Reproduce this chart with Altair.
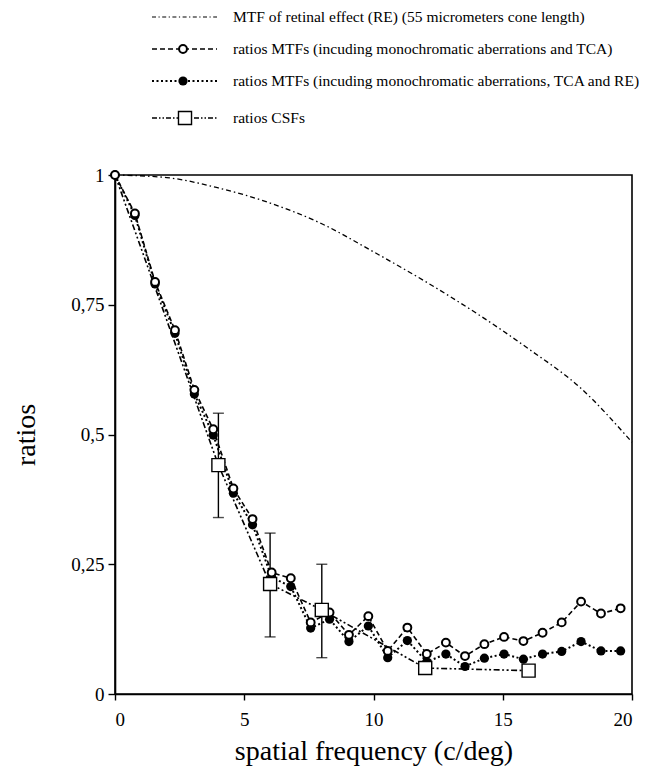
import altair as alt
import pandas as pd

# ---- data ----
x_mtf = [0, 0.77, 1.55, 2.32, 3.07, 3.8, 4.58, 5.32, 6.06, 6.8, 7.57, 8.3, 9.05, 9.8,
         10.55, 11.31, 12.06, 12.8, 13.54, 14.29, 15.05, 15.8, 16.54, 17.28, 18.03, 18.8, 19.56]
mtf_open = [1.0, 0.926, 0.794, 0.701, 0.586, 0.51, 0.396, 0.337, 0.234, 0.223, 0.138, 0.157,
            0.114, 0.150, 0.083, 0.128, 0.077, 0.099, 0.073, 0.096, 0.110, 0.102, 0.118,
            0.138, 0.178, 0.155, 0.165]
mtf_filled = [1.0, 0.922, 0.79, 0.695, 0.578, 0.499, 0.387, 0.326, 0.225, 0.207, 0.127, 0.144,
              0.101, 0.131, 0.070, 0.103, 0.062, 0.077, 0.053, 0.069, 0.077, 0.067, 0.077,
              0.082, 0.101, 0.083, 0.083]

x_re = [0, 2, 4, 6, 8, 10, 12, 14, 16, 18, 20]
y_re = [1.0, 0.995, 0.975, 0.946, 0.906, 0.852, 0.795, 0.733, 0.665, 0.59, 0.485]

x_csf = [0, 4, 6, 8, 12, 16]
y_csf = [1.0, 0.441, 0.212, 0.162, 0.05, 0.045]

x_err = [4, 6, 8]
err_lo = [0.34, 0.11, 0.07]
err_hi = [0.541, 0.31, 0.25]

legend_labels = [
    "MTF of retinal effect (RE) (55 micrometers cone length)",
    "ratios MTFs (incuding monochromatic aberrations and TCA)",
    "ratios MTFs (incuding monochromatic aberrations, TCA and RE)",
    "ratios CSFs",
]

x_ticks = [0, 5, 10, 15, 20]
y_ticks = [0, 0.25, 0.5, 0.75, 1]

FONT = "Liberation Serif"
W, H = 517, 519

df_mtf = pd.DataFrame({"x": x_mtf, "open": mtf_open, "filled": mtf_filled})
df_re = pd.DataFrame({"x": x_re, "y": y_re})
df_csf = pd.DataFrame({"x": x_csf, "y": y_csf})
df_err = pd.DataFrame({"x": x_err, "lo": err_lo, "hi": err_hi})

xs = alt.Scale(domain=[0, 20], nice=False, zero=False)
ys = alt.Scale(domain=[0, 1], nice=False, zero=False)

X = alt.X("x:Q", scale=xs, title="spatial frequency (c/deg)",
          axis=alt.Axis(values=x_ticks, grid=False, tickSize=6, labelPadding=10,
                        titlePadding=8))
Y_AX = alt.Axis(values=y_ticks, grid=False, tickSize=7, labelPadding=4, titlePadding=30,
                labelExpr="replace(format(datum.value, ''), '.', ',')")

re_line = alt.Chart(df_re).mark_line(
    color="black", strokeWidth=1.3, strokeDash=[5, 3, 1.5, 3], interpolate="monotone"
).encode(x=X, y=alt.Y("y:Q", scale=ys, title="ratios", axis=Y_AX))

filled_line = alt.Chart(df_mtf).mark_line(
    color="black", strokeWidth=2, strokeDash=[2, 2.5]
).encode(x="x:Q", y="filled:Q")
open_line = alt.Chart(df_mtf).mark_line(
    color="black", strokeWidth=1.6, strokeDash=[5, 3]
).encode(x="x:Q", y="open:Q")
csf_line = alt.Chart(df_csf).mark_line(
    color="black", strokeWidth=1.6, strokeDash=[6, 2.5, 2, 2.5, 2, 2.5]
).encode(x="x:Q", y="y:Q")

err_rule = alt.Chart(df_err).mark_rule(color="black", strokeWidth=1.4).encode(
    x="x:Q", y="lo:Q", y2="hi:Q")
err_lo_cap = alt.Chart(df_err).mark_tick(color="black", thickness=1.4, size=11,
                                         orient="horizontal").encode(x="x:Q", y="lo:Q")
err_hi_cap = alt.Chart(df_err).mark_tick(color="black", thickness=1.4, size=11,
                                         orient="horizontal").encode(x="x:Q", y="hi:Q")

filled_pts = alt.Chart(df_mtf).mark_point(
    shape="circle", filled=True, color="black", size=85, opacity=1
).encode(x="x:Q", y="filled:Q")
open_pts = alt.Chart(df_mtf).mark_point(
    shape="circle", fill="white", stroke="black", strokeWidth=2, size=62, opacity=1
).encode(x="x:Q", y="open:Q")
csf_pts = alt.Chart(df_csf).transform_filter("datum.x > 0").mark_point(
    shape="square", fill="white", stroke="black", strokeWidth=1.4, size=170, opacity=1
).encode(x="x:Q", y="y:Q")

# ---- legend drawn above the plot area (pixel positions relative to the view) ----
row_y = [-158, -126, -94, -57]
dashes = [[4, 2.5, 1.2, 2.5], [5, 3], [2, 2.5], [5, 2, 1.5, 2, 1.5, 2]]
widths = [1.1, 1.6, 2, 1.6]
one = pd.DataFrame({"k": [0]})
leg_layers = []
for i, lab in enumerate(legend_labels):
    leg_layers.append(
        alt.Chart(one).mark_rule(color="black", strokeWidth=widths[i], strokeDash=dashes[i])
        .encode(x=alt.value(37), x2=alt.value(102), y=alt.value(row_y[i]))
    )
    leg_layers.append(
        alt.Chart(one).mark_text(text=lab, align="left", baseline="middle", font=FONT,
                                 fontSize=15.5, color="black")
        .encode(x=alt.value(118), y=alt.value(row_y[i]))
    )
leg_layers.append(alt.Chart(one).mark_point(shape="circle", fill="white", stroke="black",
                                            strokeWidth=2, size=62, opacity=1)
                  .encode(x=alt.value(68), y=alt.value(row_y[1])))
leg_layers.append(alt.Chart(one).mark_point(shape="circle", filled=True, color="black",
                                            size=85, opacity=1)
                  .encode(x=alt.value(68), y=alt.value(row_y[2])))
leg_layers.append(alt.Chart(one).mark_point(shape="square", fill="white", stroke="black",
                                            strokeWidth=1.4, size=170, opacity=1)
                  .encode(x=alt.value(70), y=alt.value(row_y[3])))

chart = alt.layer(
    re_line, filled_line, open_line, csf_line, err_rule, err_lo_cap, err_hi_cap,
    filled_pts, open_pts, csf_pts, *leg_layers
).properties(
    width=W, height=H,
    autosize=alt.AutoSizeParams(type="none"),
    padding={"left": 107, "top": 167, "right": 7, "bottom": 90},
).configure_view(
    stroke="black", strokeWidth=1.6
).configure_axis(
    domainColor="black", domainWidth=1.6, tickColor="black", tickWidth=1.4,
    labelColor="black", titleColor="black",
    labelFont=FONT, titleFont=FONT, labelFontSize=19, titleFontSize=28,
    titleFontWeight="normal",
)

chart.save("out.html", embed_options={"renderer": "svg", "actions": False})
